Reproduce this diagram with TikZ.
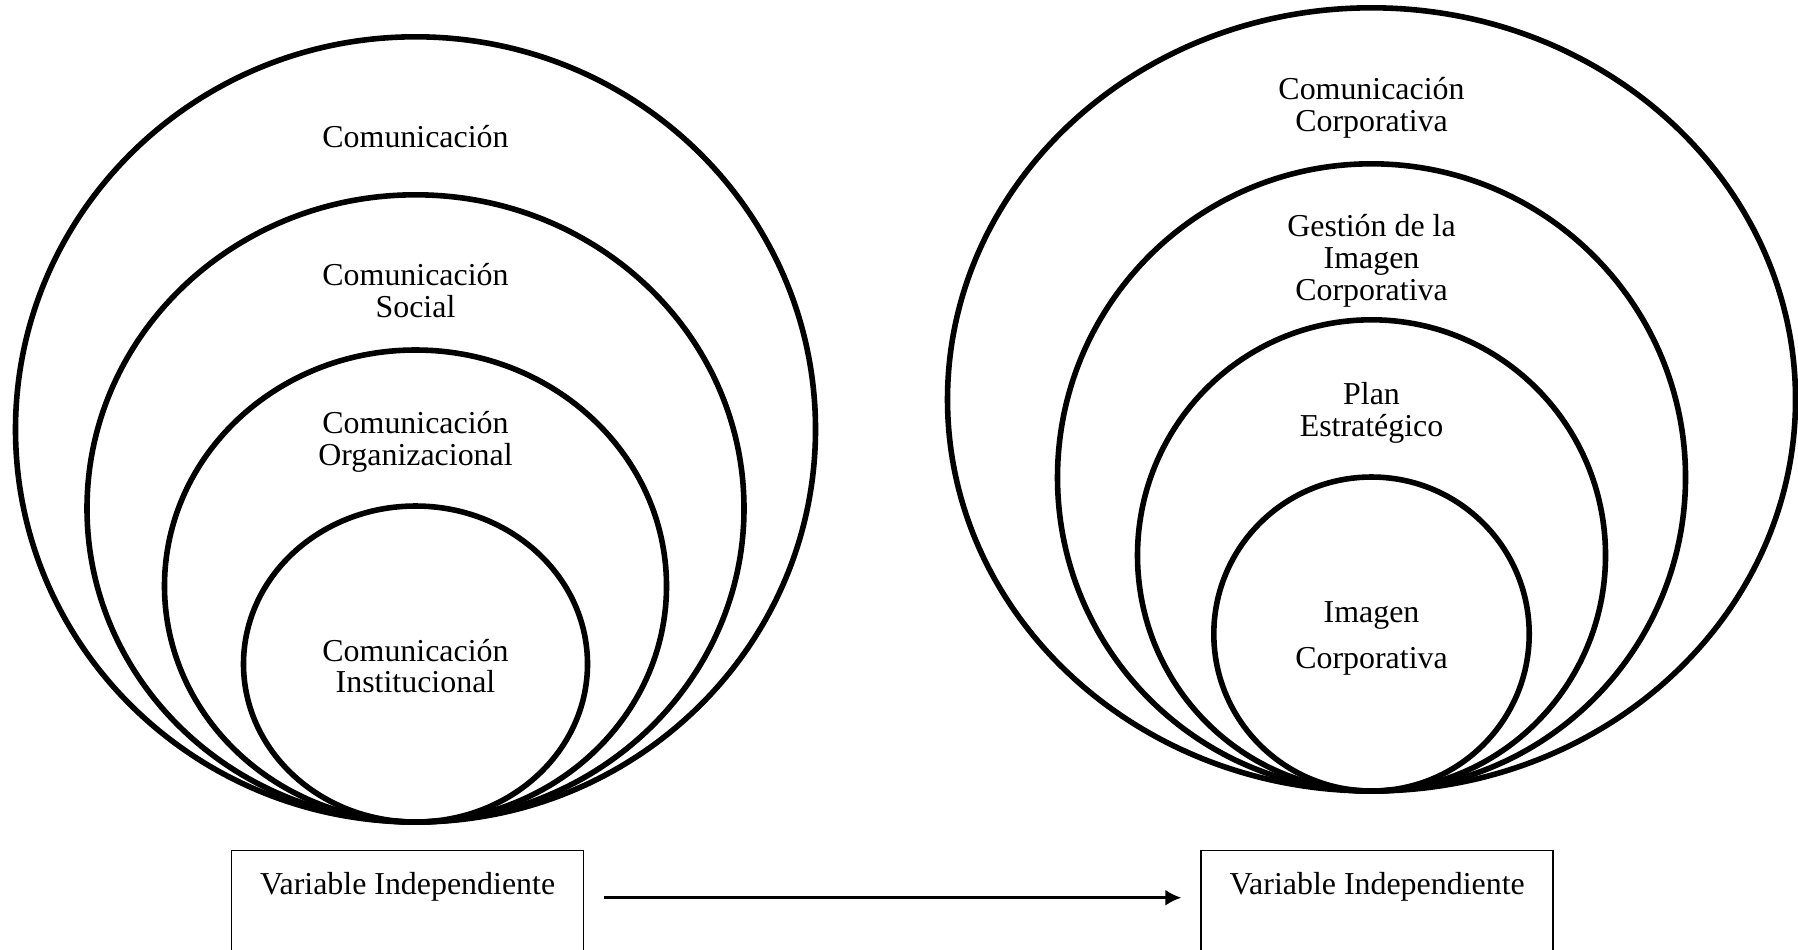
\documentclass[tikz,border=0pt]{standalone}
\usepackage{fontspec}
\setmainfont{Liberation Serif}
\usetikzlibrary{arrows.meta,calc}

\tikzset{
  ring/.style = {line width=2.1pt},
  label/.style = {align=center, font=\fontsize{12}{12}\selectfont},
  varbox/.style = {draw, line width=0.6pt, anchor=north, minimum width=132.4pt,
    inner xsep=0pt, inner ysep=0pt, text height=16.5pt, text depth=120pt,
    font=\fontsize{12}{12}\selectfont}
}

\begin{document}
\begin{tikzpicture}[x=0.376pt, y=-0.376pt]
  \clip (0,0) rectangle (1798,949);

  % left group: rings touching at the bottom
  \foreach \rx/\ry in {400/392.6, 328.5/313.6, 251/236, 172/158}
    \draw[ring] (415.5,{822-\ry}) ellipse [x radius=\rx, y radius=\ry];

  \node[label] (c1) at (415.5,137) {Comunicación};
  \node[label] (c2) at (415.5,291) {Comunicación\\Social};
  \node[label] (c3) at (415.5,442) {Comunicación\\Organizacional};
  \node[label] (c4) at (415.5,666) {Comunicación\\Institucional};

  % right group
  \foreach \rx/\ry in {424/391.6, 314/313.6, 234/235.6, 157.7/157}
    \draw[ring] (1371.5,{791-\ry}) ellipse [x radius=\rx, y radius=\ry];

  \node[label] (d1) at (1371.5,108) {Comunicación\\Corporativa};
  \node[label] (d2) at (1371.5,261) {Gestión de la\\Imagen\\Corporativa};
  \node[label] (d3) at (1371.5,413) {Plan\\Estratégico};
  \node[label] (d4) at (1371.5,638) {Imagen\\[5.3pt]Corporativa};

  % variables
  \node[varbox] (vi1) at (407.6,849.7) {Variable Independiente};
  \node[varbox] (vi2) at (1377.2,849.7) {Variable Independiente};

  \draw[-{Latex[length=6pt,width=6pt]}, line width=1pt]
    ($(vi1.north east)+(20,48)$) -- ($(vi2.north west)+(-19,48)$);
\end{tikzpicture}
\end{document}
